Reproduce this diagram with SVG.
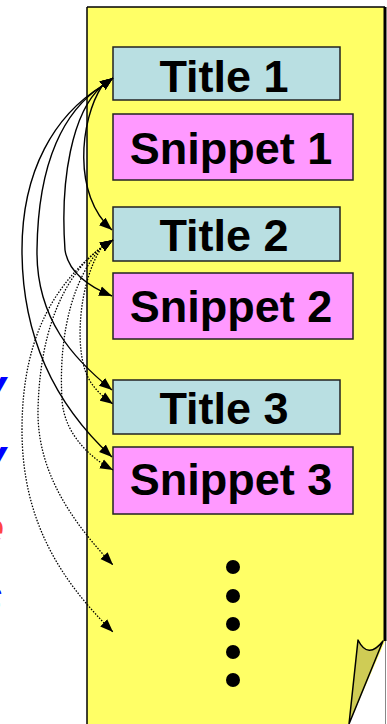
<svg xmlns="http://www.w3.org/2000/svg" width="387" height="724" viewBox="0 0 387 724">
<style>
.title{fill:#b9dfe2;stroke:#222;stroke-width:1.5}
.snip{fill:#ff99ff;stroke:#222;stroke-width:1.5}
.lbl{font-family:"Liberation Sans",Arial,sans-serif;font-weight:bold;font-size:45px;fill:#000;text-anchor:middle}
.side{font-family:"Liberation Sans",Arial,sans-serif;font-weight:bold;font-style:italic;font-size:48px;text-anchor:end}
.solid{fill:none;stroke:#000;stroke-width:1.4}
.dot{fill:none;stroke:#000;stroke-width:1.3;stroke-dasharray:1.5 1.5}
</style>
<defs>
<marker id="ah" markerUnits="userSpaceOnUse" markerWidth="14" markerHeight="11" refX="13" refY="5" orient="auto-start-reverse" viewBox="0 0 14 10">
<path d="M0,0 L13,5 L0,10 Z" fill="#000"/>
</marker>
</defs>
<g id="side-text">
<text class="side" x="6" y="403" fill="#0000ff">y</text>
<text class="side" x="6" y="473" fill="#0000ff">y</text>
<text class="side" x="4" y="545" fill="#ff4444">e</text>
<text class="side" x="3" y="613" fill="#0000ff">s</text>
</g>
<g id="page">
<polygon points="87,7 385,7 385,641 349,724 87,724" fill="#ffff66"/>
<line x1="87" y1="7" x2="87" y2="724" stroke="#000" stroke-width="1.5"/>
<line x1="87" y1="7" x2="385" y2="7" stroke="#000" stroke-width="1.5"/>
<line x1="385" y1="7" x2="385" y2="641" stroke="#000" stroke-width="3"/>
<line x1="385.5" y1="641" x2="385.5" y2="724" stroke="#888" stroke-width="1"/>
<path d="M358,640 Q368,660 383,641 L349,724 Z" fill="#cfcc55" stroke="#000" stroke-width="1.5" stroke-linejoin="round"/>
</g>
<g id="title1"><rect class="title" x="113" y="47" width="227" height="53"/><text class="lbl" x="224" y="92">Title 1</text></g>
<g id="snippet1"><rect class="snip" x="113" y="114" width="240" height="66"/><text class="lbl" x="231" y="164">Snippet 1</text></g>
<g id="title2"><rect class="title" x="113" y="207" width="227" height="54"/><text class="lbl" x="224" y="251">Title 2</text></g>
<g id="snippet2"><rect class="snip" x="113" y="273" width="240" height="66"/><text class="lbl" x="231" y="322">Snippet 2</text></g>
<g id="title3"><rect class="title" x="113" y="380" width="227" height="54"/><text class="lbl" x="224" y="424">Title 3</text></g>
<g id="snippet3"><rect class="snip" x="113" y="447" width="240" height="67"/><text class="lbl" x="231" y="495">Snippet 3</text></g>
<g id="more">
<circle cx="233" cy="567" r="7"/><circle cx="233" cy="596" r="7"/><circle cx="233" cy="624" r="7"/><circle cx="233" cy="652" r="7"/><circle cx="233" cy="680" r="7"/>
</g>
<g id="connectors">
<path class="solid" marker-start="url(#ah)" marker-end="url(#ah)" d="M113,78 L102,86 C80,120 72,195 112,230"/>
<path class="solid" marker-start="url(#ah)" marker-end="url(#ah)" d="M113,78 L102,86 C72,112 60,180 65,250 C68,270 85,285 112,296"/>
<path class="solid" marker-start="url(#ah)" marker-end="url(#ah)" d="M113,78 L102,86 C65,110 38,160 37,250 C36,320 75,360 112,390"/>
<path class="solid" marker-start="url(#ah)" marker-end="url(#ah)" d="M113,78 L102,86 C55,115 22,170 22,250 C22,330 50,400 112,457"/>
<path class="dot" marker-start="url(#ah)" marker-end="url(#ah)" d="M113,240 L102,247 C80,280 75,340 85,370 C90,385 100,395 113,404"/>
<path class="dot" marker-start="url(#ah)" marker-end="url(#ah)" d="M113,240 L102,247 C75,275 58,330 62,400 C64,430 85,455 113,470"/>
<path class="dot" marker-start="url(#ah)" marker-end="url(#ah)" d="M113,240 L102,247 C70,270 40,320 38,410 C37,470 70,520 113,565"/>
<path class="dot" marker-start="url(#ah)" marker-end="url(#ah)" d="M113,240 L102,247 C60,280 22,330 22,430 C22,520 60,580 113,632"/>
</g>
</svg>
